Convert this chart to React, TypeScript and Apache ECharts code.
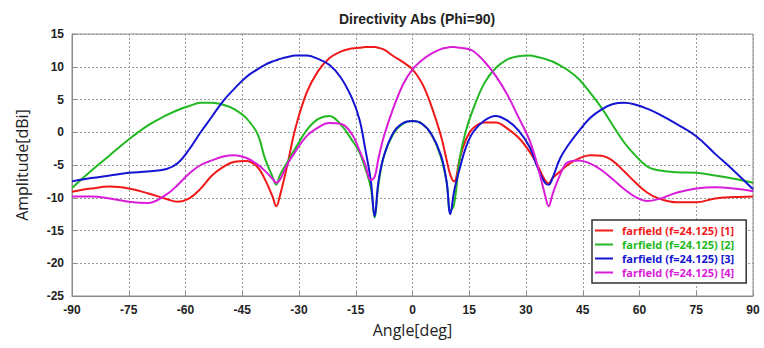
import React, { useEffect, useRef } from "react";
import * as echarts from "echarts";

const angles = [
  -90, -85, -80, -75, -70, -65, -62, -59, -56, -53, -50, -47, -44, -41, -39, -37, -36, -35, -33, -31, -28, -25, -22,
  -19, -16, -14, -12.5, -11, -10, -9, -7.5, -5, -2.5, 0, 2.5, 5, 7.5, 9, 10, 11, 12.5, 14, 16, 19, 22, 25, 28, 31, 33,
  35, 36, 37, 39, 41, 44, 47, 50, 53, 56, 59, 62, 65, 70, 75, 80, 85, 90,
];

const red = [
  -9.1, -8.6, -8.3, -8.6, -9.3, -10.2, -10.6, -10.1, -8.6, -6.6, -5.3, -4.5, -4.4, -5.3, -7.2, -9.8, -11.3, -9.6, -4.8,
  0.5, 6.0, 9.3, 11.3, 12.3, 12.8, 12.9, 13.0, 13.0, 13.0, 12.9, 12.6, 11.6, 10.7, 9.6, 7.5, 4.0, -0.5, -4.2, -6.5,
  -7.5, -4.0, -1.3, 0.6, 1.5, 1.5, 0.6, -0.8, -3.0, -5.0, -7.3, -7.8, -7.0, -6.0, -5.0, -4.0, -3.5, -3.6, -4.4, -6.0,
  -7.7, -9.2, -10.1, -10.7, -10.7, -10.1, -9.9, -9.8,
];

const green = [
  -8.5, -5.9, -3.5, -1.1, 1.0, 2.6, 3.4, 4.0, 4.5, 4.5, 4.2, 3.5, 2.2, -0.2, -4.0, -6.8, -8.0, -6.5, -4.5, -2.5, 0.3,
  2.0, 2.5, 1.2, -1.2, -3.1, -5.5, -8.5, -13.0, -8.0, -3.5, -0.2, 1.3, 1.7, 1.3, -0.3, -3.8, -7.5, -12.0, -11.0, -4.0,
  0.0, 3.5, 7.5, 9.8, 11.1, 11.6, 11.7, 11.5, 11.2, 11.0, 10.8, 10.2, 9.5, 8.1, 6.0, 3.7, 1.0, -1.6, -3.6, -5.2, -5.8,
  -6.1, -6.2, -6.6, -7.1, -7.7,
];

const blue = [
  -7.5, -7.0, -6.6, -6.2, -6.0, -5.6, -4.7, -2.6, 0.0, 2.4, 4.8, 6.7, 8.4, 9.6, 10.3, 10.8, 11.0, 11.2, 11.5, 11.7,
  11.7, 11.2, 10.3, 8.4, 5.2, 1.9, -2.5, -7.5, -12.8, -7.5, -3.5, 0.0, 1.4, 1.7, 1.3, -0.3, -3.5, -7.5, -12.5, -9.0,
  -5.5, -2.5, 0.0, 1.8, 2.5, 1.8, 0.3, -2.3, -5.3, -7.7, -8.0, -7.0, -4.0, -2.1, 0.2, 2.2, 3.5, 4.3, 4.5, 4.2, 3.6,
  2.8, 1.2, -0.6, -3.3, -5.9, -8.7,
];

const magenta = [
  -9.8, -9.8, -10.1, -10.6, -10.8, -9.5, -8.0, -6.3, -5.0, -4.3, -3.7, -3.5, -3.9, -4.9, -5.9, -7.1, -7.7, -7.2, -4.8,
  -3.0, -0.6, 0.7, 1.4, 1.3, -0.3, -2.8, -4.9, -7.3, -6.8, -4.0, -0.5, 3.8, 7.3, 9.6, 11.0, 12.0, 12.7, 12.9, 13.0,
  13.0, 12.9, 12.8, 12.4, 10.8, 8.6, 5.8, 2.3, -1.3, -5.0, -9.5, -11.3, -9.5, -6.5, -4.6, -4.3, -4.8, -5.8, -7.2, -8.7,
  -9.9, -10.5, -10.2, -9.2, -8.6, -8.4, -8.6, -9.0,
];

const seriesNames = [
  "farfield (f=24.125) [1]",
  "farfield (f=24.125) [2]",
  "farfield (f=24.125) [3]",
  "farfield (f=24.125) [4]",
];
const seriesColors = ["#f01818", "#22b822", "#1414d2", "#d81cd8"];
const seriesValues = [red, green, blue, magenta];

export default function App() {
  const ref = useRef<HTMLDivElement>(null);
  useEffect(() => {
    if (!ref.current) return;
    const chart = echarts.init(ref.current, null, { renderer: "svg" });
    const labelFont = "Liberation Sans";
    chart.setOption({
      animation: false,
      backgroundColor: "#ffffff",
      title: {
        text: "Directivity Abs (Phi=90)",
        left: 412,
        top: 7,
        textAlign: "center",
        textStyle: { fontFamily: labelFont, fontWeight: "bold", fontSize: 14, color: "#222" },
      },
      grid: {
        left: 72,
        right: 11,
        top: 34,
        bottom: 52,
        show: true,
        borderColor: "#8a8a8a",
        borderWidth: 1,
        backgroundColor: "#ffffff",
      },
      legend: {
        orient: "vertical",
        left: 592,
        top: 220,
        padding: [5, 12, 5, 3],
        itemGap: 3,
        itemWidth: 18,
        itemHeight: 12,
        icon: "path://M0,5 L18,5 L18,7 L0,7 Z",
        backgroundColor: "#ffffff",
        borderColor: "#333",
        borderWidth: 1.5,
        data: seriesNames.map((n, i) => ({
          name: n,
          textStyle: { color: seriesColors[i] },
          itemStyle: { color: seriesColors[i] },
        })),
        textStyle: { fontFamily: "Open Sans", fontWeight: "bold", fontSize: 11, padding: [0, 0, 0, 4] },
      },
      xAxis: {
        type: "value",
        min: -90,
        max: 90,
        interval: 15,
        name: "Angle[deg]",
        nameLocation: "middle",
        nameGap: 26,
        nameTextStyle: { fontFamily: "Open Sans", fontSize: 16, color: "#222" },
        axisLine: { show: true, onZero: false, lineStyle: { color: "#8a8a8a" } },
        axisTick: { show: true, inside: true, length: 4, lineStyle: { color: "#8a8a8a" } },
        axisLabel: { fontFamily: labelFont, fontWeight: "bold", fontSize: 12, color: "#222", margin: 8 },
        splitLine: { show: true, lineStyle: { color: "#9a9a9a", type: [2, 2], width: 1 } },
      },
      yAxis: {
        type: "value",
        min: -25,
        max: 15,
        interval: 5,
        name: "Amplitude[dBi]",
        nameLocation: "middle",
        nameGap: 42,
        nameTextStyle: { fontFamily: "Open Sans", fontSize: 16, color: "#222" },
        axisLine: { show: true, onZero: false, lineStyle: { color: "#8a8a8a" } },
        axisTick: { show: true, inside: true, length: 4, lineStyle: { color: "#8a8a8a" } },
        axisLabel: { fontFamily: labelFont, fontWeight: "bold", fontSize: 12, color: "#222", margin: 8 },
        splitLine: { show: true, lineStyle: { color: "#9a9a9a", type: [2, 2], width: 1 } },
      },
      series: seriesNames.map((n, i) => ({
        name: n,
        type: "line",
        symbol: "none",
        smooth: 0.4,
        lineStyle: { color: seriesColors[i], width: 2 },
        itemStyle: { color: seriesColors[i] },
        data: angles.map((a, k) => [a, seriesValues[i][k]]),
      })),
    });
    return () => chart.dispose();
  }, []);
  return (
    <div
      ref={ref}
      style={{ position: "fixed", left: 0, top: 0, width: 764, height: 348 }}
    />
  );
}
